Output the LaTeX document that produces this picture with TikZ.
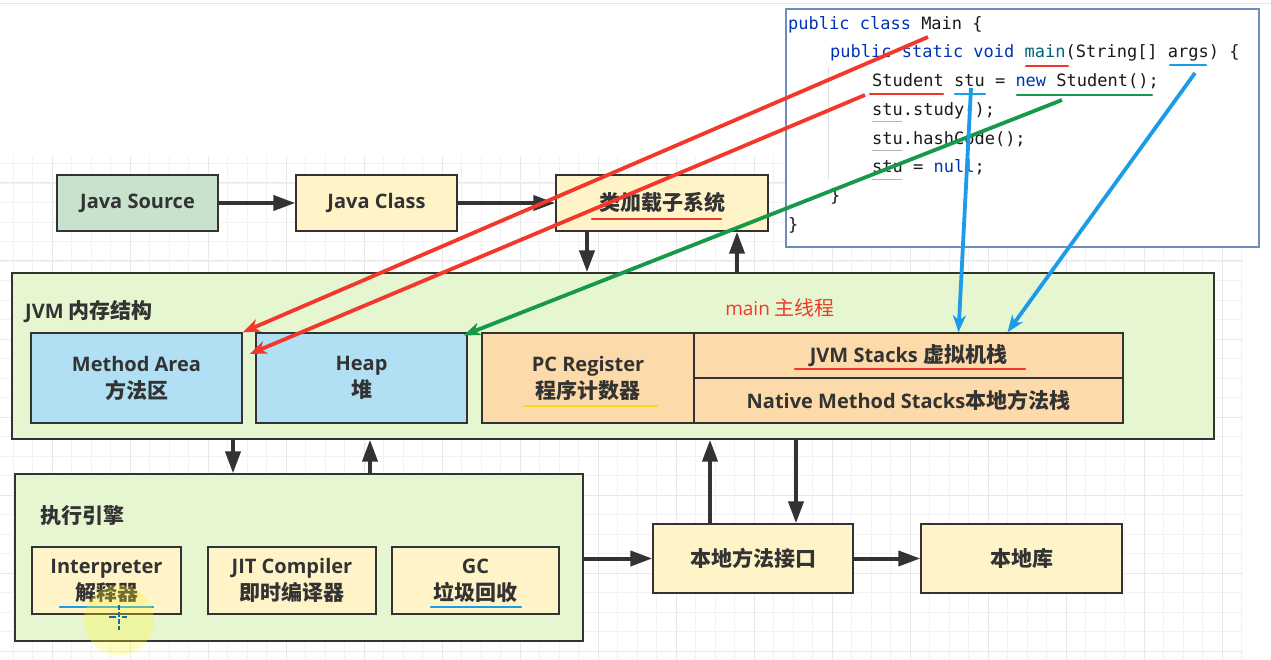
\documentclass[tikz,border=0pt]{standalone}
\usepackage{fontspec}
\setmainfont{Open Sans}
\setmonofont{DejaVu Sans Mono}
\newfontfamily\cjk{Noto Sans CJK SC}[Scale=1.05]
\usetikzlibrary{arrows.meta}

\definecolor{srcfill}{HTML}{C9E2CD}
\definecolor{clsfill}{HTML}{FFF4C8}
\definecolor{jvmfill}{HTML}{E6F6D0}
\definecolor{areafill}{HTML}{B1DFF3}
\definecolor{regfill}{HTML}{FDDAA9}
\definecolor{edge}{HTML}{333333}
\definecolor{codeblue}{HTML}{0033B3}
\definecolor{codefn}{HTML}{00627A}
\definecolor{codeframe}{HTML}{6C8EBF}
\definecolor{penred}{HTML}{F2372B}
\definecolor{pengreen}{HTML}{17994A}
\definecolor{penblue}{HTML}{1C9BE8}
\definecolor{penyellow}{HTML}{F8D81C}

\newcommand\lbl{\fontsize{20}{27}\selectfont\bfseries}
\newcommand\codefont{\fontsize{17}{20}\selectfont\ttfamily}
\newcommand\kw[1]{\textcolor{codeblue}{#1}}

\tikzset{
	box/.style={draw=edge, line width=1.4pt, inner sep=0pt, text=edge, font=\lbl, align=center},
	conn/.style={draw=edge, line width=4pt, -{Triangle[length=22pt,width=15pt]}},
	pen/.style={line width=3.8pt, -{Stealth[length=17pt,width=13pt,inset=5pt]}},
	uline/.style={line width=2.2pt, line cap=round},
	codeline/.style={anchor=west, inner sep=0pt, font=\codefont, text=black!90, text height=12pt, text depth=3.5pt},
	gridthin/.style={color=black!5, line width=0.8pt},
	gridthick/.style={color=black!9, line width=1pt}
}

\begin{document}
\begin{tikzpicture}[x=1pt, y=-1pt]
			%%%%% START %%%%%
			\useasboundingbox (0,0) rectangle (1271,660);
			\fill[white] (0,0) rectangle (1271,660);
			
			% grid
			\draw[black!10, line width=1pt] (0,4) -- (1271,4);
			\foreach \i in {0,...,63} \draw[gridthin] ({13+19.5*\i},156) -- ({13+19.5*\i},660);
			\foreach \j in {0,...,25} \draw[gridthin] (0,{163.5+19.5*\j}) -- (1243,{163.5+19.5*\j});
			\foreach \i in {0,...,15} \draw[gridthick] ({52+78*\i},156) -- ({52+78*\i},660);
			\foreach \j in {0,...,6} \draw[gridthick] (0,{183+78*\j}) -- (1243,{183+78*\j});
			
			% top row
			\node[box, fill=srcfill, minimum width=161pt, minimum height=56pt] (src) at (137.5,203) {Java Source};
			\node[box, fill=clsfill, minimum width=161pt, minimum height=56pt] (cls) at (376.5,203) {Java Class};
			\node[box, fill=clsfill, minimum width=212pt, minimum height=56pt] (ldr) at (662,203) {\cjk 类加载子系统};
			
			% memory structure
			\node[box, fill=jvmfill, minimum width=1202pt, minimum height=166pt] (jvm) at (613,356) {};
			\node[font=\lbl, text=edge, anchor=west, inner sep=0pt] (jvmtitle) at (25,312) {JVM {\cjk 内存结构}};
			\node[font=\fontsize{19}{22}\selectfont, text=penred, inner sep=0pt] (mainthread) at (780,308) {main {\cjk 主线程}};
			\node[box, fill=areafill, minimum width=211pt, minimum height=90pt] (ma) at (136.5,378) {Method Area\\{\cjk 方法区}};
			\node[box, fill=areafill, minimum width=211pt, minimum height=90pt] (heap) at (361.5,378) {Heap\\{\cjk 堆}};
			\node[box, fill=regfill, minimum width=212pt, minimum height=90pt] (pc) at (588,378) {PC Register\\{\cjk 程序计数器}};
			\node[box, fill=regfill, minimum width=429pt, minimum height=45pt] (stk) at (908.5,355.5) {JVM Stacks {\cjk 虚拟机栈}};
			\node[box, fill=regfill, minimum width=429pt, minimum height=45pt] (nms) at (908.5,400.5) {Native Method Stacks{\cjk 本地方法栈}};
			
			% execution engine
			\node[box, fill=jvmfill, minimum width=568pt, minimum height=167pt] (exe) at (299,557.5) {};
			\node[font=\lbl, text=edge, anchor=west, inner sep=0pt] (exetitle) at (40,516) {\cjk 执行引擎};
			\node[box, fill=clsfill, minimum width=149pt, minimum height=67pt] (interp) at (106.5,580.5) {Interpreter\\{\cjk 解释器}};
			\node[box, fill=clsfill, minimum width=168pt, minimum height=67pt] (jit) at (292,580.5) {JIT Compiler\\{\cjk 即时编译器}};
			\node[box, fill=clsfill, minimum width=167pt, minimum height=67pt] (gc) at (475.5,580.5) {GC\\{\cjk 垃圾回收}};
			
			\node[box, fill=clsfill, minimum width=200pt, minimum height=69pt] (jni) at (753,558.5) {\cjk 本地方法接口};
			\node[box, fill=clsfill, minimum width=201pt, minimum height=69pt] (lib) at (1021.5,558.5) {\cjk 本地库};
			
			% connectors
			\draw[conn] (src.east) -- (cls.west);
			\draw[conn] (cls.east) -- (ldr.west);
			\draw[conn] ([xshift=-75pt]ldr.south) -- ([xshift=-75pt]ldr.south |- jvm.north);
			\draw[conn] ([xshift=75pt]ldr.south |- jvm.north) -- ([xshift=75pt]ldr.south);
			\draw[conn] ([xshift=-66pt]exe.north |- jvm.south) -- ([xshift=-66pt]exe.north);
			\draw[conn] ([xshift=71pt]exe.north) -- ([xshift=71pt]exe.north |- jvm.south);
			\draw[conn] ([xshift=-43pt]jni.north) -- ([xshift=-43pt]jni.north |- jvm.south);
			\draw[conn] ([xshift=43pt]jni.north |- jvm.south) -- ([xshift=43pt]jni.north);
			\draw[conn] (exe.east |- jni.west) -- (jni.west);
			\draw[conn] (jni.east) -- (lib.west);
			
			% source code
			\node[draw=codeframe, line width=1.2pt, fill=white, minimum width=473pt, minimum height=238pt, inner sep=0pt] (code) at (1022.5,128) {};
			\draw[black!12, line width=1pt] (828,67) -- (828,180);
			\node[codeline] (ln1) at (788,25) {\kw{public class} Main \{};
			\node[codeline] (ln2) at (830,53.7) {\kw{public static void} \textcolor{codefn}{main}(String[] args) \{};
			\node[codeline] (ln3) at (872,82.4) {Student stu = \kw{new} Student();};
			\node[codeline] (ln4) at (872,111.1) {stu.study();};
			\node[codeline] (ln5) at (872,139.8) {stu.hashCode();};
			\node[codeline] (ln6) at (872,168.5) {stu = \kw{null};};
			\node[codeline] (ln7) at (830,197.2) {\}};
			\node[codeline] (ln8) at (788,225.9) {\}};
			\draw[black!30, line width=1pt] (872,122) -- (902,122);
			\draw[black!30, line width=1pt] (872,151) -- (902,151);
			\draw[black!30, line width=1pt] (872,180) -- (902,180);
			
			% marks
			\draw[uline, penred] (1026,66) -- (1068,66);
			\draw[uline, penblue] (1170,65) -- (1206,65);
			\draw[uline, penred] (870,94) -- (943,94);
			\draw[uline, penblue] (955,94) -- (985,94);
			\draw[uline, pengreen] (1017,95) -- (1152,95);
			\draw[uline, penred] (592,219) -- (721,219);
			\draw[uline, penred] (795,369) -- (1025,369);
			\draw[uline, penyellow] (524,406) -- (657,406);
			\draw[uline, penblue] (60,607) -- (153,607);
			\draw[uline, penblue] (431,607) -- (521,607);
			
			\coordinate (aMain) at (928,37);
			\coordinate (aStudent) at (865,95);
			\coordinate (aNew) at (1062,100);
			\coordinate (aStu) at (971,88);
			\coordinate (aArgs) at (1195,73);
			\draw[pen, penred] (aMain) -- (ma.north east);
			\draw[pen, penred] (aStudent) -- ([shift={(7,-24)}]ma.east);
			\draw[pen, pengreen] (aNew) -- ([shift={(-4,3)}]heap.north east);
			\draw[pen, penblue] (aStu) -- ([xshift=50pt]stk.north);
			\draw[pen, penblue] (aArgs) -- ([xshift=99pt]stk.north);
			
			% pointer
			\fill[yellow!80, opacity=0.3] (119,620) circle (35);
			\draw[penblue!70!black, line width=1.2pt, dash pattern=on 5pt off 2pt] (119,605) -- (119,630);
			\draw[penblue!70!black, line width=1.2pt] (109,617) -- (116,617) (122,617) -- (127,617);
			
			%%%%% END %%%%%
\end{tikzpicture}
\end{document}
